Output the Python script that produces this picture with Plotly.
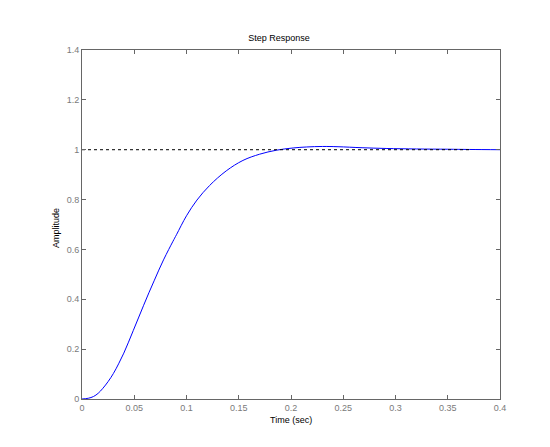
import plotly.graph_objects as go

# step response
t = [0, 0.006, 0.011, 0.0155, 0.020, 0.025, 0.030, 0.035, 0.040, 0.0445,
     0.049, 0.054, 0.059, 0.064, 0.069, 0.0735, 0.078, 0.083, 0.0871, 0.0904,
     0.100, 0.110, 0.122, 0.138, 0.154, 0.170, 0.186, 0.202, 0.215, 0.230,
     0.245, 0.268, 0.291, 0.320, 0.350, 0.371, 0.400]
amp = [0, 0.003, 0.010, 0.023, 0.043, 0.070, 0.102, 0.141, 0.184, 0.228,
       0.274, 0.325, 0.376, 0.426, 0.474, 0.517, 0.558, 0.600, 0.633, 0.659,
       0.735, 0.798, 0.856, 0.915, 0.957, 0.982, 0.998, 1.007, 1.011, 1.013,
       1.012, 1.008, 1.005, 1.003, 1.002, 1.001, 1.000]

# steady state reference line
ref_t = [0, 0.371]
ref_y = [1, 1]

x_ticks = [0, 0.05, 0.1, 0.15, 0.2, 0.25, 0.3, 0.35, 0.4]
x_labels = ["0", "0.05", "0.1", "0.15", "0.2", "0.25", "0.3", "0.35", "0.4"]
y_ticks = [0, 0.2, 0.4, 0.6, 0.8, 1, 1.2, 1.4]
y_labels = ["0", "0.2", "0.4", "0.6", "0.8", "1", "1.2", "1.4"]

FONT = "Liberation Sans"

fig = go.Figure()
fig.add_trace(go.Scatter(x=t, y=amp, mode="lines", line=dict(color="#0000ff", width=1),
                         line_shape="spline", showlegend=False, hoverinfo="skip"))
fig.add_trace(go.Scatter(x=ref_t, y=ref_y, mode="lines",
                         line=dict(color="black", width=1, dash="3px,3px"),
                         showlegend=False, hoverinfo="skip"))

axis_style = dict(showline=True, linecolor="#666666", linewidth=1, mirror="ticks",
                  ticks="inside", ticklen=4, tickcolor="#666666", showgrid=False,
                  zeroline=False, tickfont=dict(family=FONT, size=9, color="#7a7a7a"))

fig.update_xaxes(range=[0, 0.4], tickvals=x_ticks, ticktext=x_labels, **axis_style)
fig.update_yaxes(range=[0, 1.4], tickvals=y_ticks, ticktext=y_labels, **axis_style)

# axis titles placed like the MATLAB figure
fig.add_annotation(text="Time (sec)", xref="paper", yref="paper", x=0.5, y=-0.06,
                   xanchor="center", yanchor="middle", showarrow=False,
                   font=dict(family=FONT, size=9, color="black"))
fig.add_annotation(text="Amplitude", xref="paper", yref="paper", x=-0.062, y=0.49,
                   xanchor="center", yanchor="middle", showarrow=False, textangle=-90,
                   font=dict(family=FONT, size=9, color="black"))

# page body has an 8px margin, so the figure is a bit smaller than the window
fig.update_layout(
    width=542, height=439,
    margin=dict(l=74, r=50, t=42, b=48),
    plot_bgcolor="white", paper_bgcolor="white",
    title=dict(text="Step Response", x=0.5, xanchor="center", y=0.932, yanchor="middle",
               font=dict(family=FONT, size=9, color="black")),
)

fig.write_html("out.html")
